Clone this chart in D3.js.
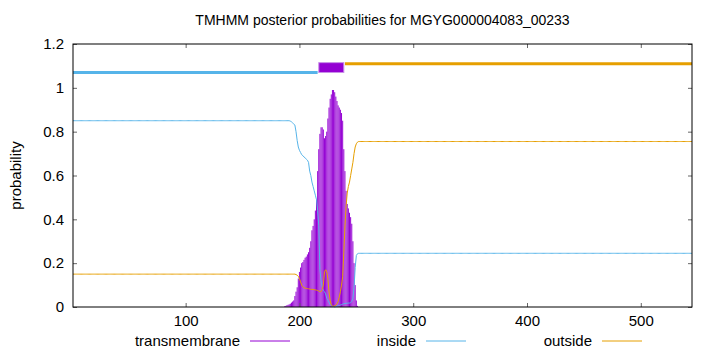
<!DOCTYPE html>
<html>
<head>
<meta charset="utf-8">
<script src="https://cdn.jsdelivr.net/npm/d3@7"></script>
<style>
  body { margin: 0; background: #fff; }
  #chart { width: 720px; height: 352px; }
  text { font-family: "Liberation Sans", Arial, sans-serif; }
</style>
</head>
<body>
<div id="chart"></div>
<script>
// protein length and the residue where the per-residue readings start
const seqLength = 545;
const detailStart = 186;

// posterior probabilities for residues 186..252 (flat before/after)
const tmProb = [0, 0.003, 0.005, 0.008, 0.01, 0.012, 0.015, 0.02, 0.025, 0.03,
  0.05, 0.07, 0.09, 0.13, 0.16, 0.18, 0.2, 0.205, 0.215, 0.225,
  0.23, 0.24, 0.25, 0.27, 0.3, 0.35, 0.37, 0.4, 0.44, 0.49,
  0.62, 0.72, 0.79, 0.82, 0.82, 0.81, 0.77, 0.78, 0.8, 0.86,
  0.91, 0.95, 0.97, 0.99, 0.99, 0.98, 0.96, 0.94, 0.92, 0.91,
  0.9, 0.885, 0.85, 0.72, 0.62, 0.53, 0.47, 0.45, 0.43, 0.41,
  0.38, 0.3, 0.2, 0.1, 0.03, 0.005, 0];
const insideProb = [0.85, 0.85, 0.85, 0.85, 0.85, 0.85, 0.848, 0.845, 0.84, 0.835,
  0.83, 0.8, 0.76, 0.73, 0.715, 0.705, 0.695, 0.69, 0.685, 0.68,
  0.675, 0.67, 0.66, 0.62, 0.6, 0.57, 0.55, 0.53, 0.51, 0.49,
  0.44, 0.37, 0.17, 0.12, 0.09, 0.075, 0.07, 0.06, 0.04, 0.03,
  0.02, 0.01, 0.005, 0.003, 0.002, 0.001, 0.002, 0.003, 0.005, 0.007,
  0.009, 0.011, 0.013, 0.015, 0.016, 0.017, 0.017, 0.018, 0.018, 0.02,
  0.025, 0.04, 0.09, 0.18, 0.235, 0.243, 0.245];
const outsideProb = [0.15, 0.15, 0.15, 0.15, 0.15, 0.15, 0.15, 0.15, 0.15, 0.15,
  0.15, 0.148, 0.145, 0.14, 0.13, 0.115, 0.1, 0.092, 0.088, 0.086,
  0.085, 0.084, 0.083, 0.082, 0.081, 0.08, 0.08, 0.079, 0.078, 0.077,
  0.075, 0.073, 0.07, 0.07, 0.08, 0.1, 0.16, 0.17, 0.16, 0.13,
  0.07, 0.03, 0.01, 0.005, 0.004, 0.005, 0.008, 0.015, 0.025, 0.045,
  0.07, 0.1, 0.14, 0.25, 0.37, 0.46, 0.52, 0.55, 0.57, 0.6,
  0.63, 0.66, 0.7, 0.73, 0.745, 0.752, 0.755];
// plateau values [before detailStart, after the readings]
const tmFlank = [0, 0];
const insideFlank = [0.85, 0.245];
const outsideFlank = [0.15, 0.755];

// predicted topology: [type, first residue, last residue]
const topology = [["inside", 1, 216], ["transmembrane", 217, 239], ["outside", 240, 545]];
const topoLevel = {inside: 1.07, outside: 1.11};
const tmBox = [1.07, 1.115];

const xTicks = [100, 200, 300, 400, 500];
const yTicks = [0, 0.2, 0.4, 0.6, 0.8, 1, 1.2];
const seriesNames = ["transmembrane", "inside", "outside"];
const colors = {transmembrane: "#9400d3", inside: "#56b4e9", outside: "#e69f00"};

class TmhmmPlot {
  constructor(id) {
    this.margin = {top: 44, right: 28, bottom: 45, left: 73};
    this.width = 720 - this.margin.left - this.margin.right;
    this.height = 352 - this.margin.top - this.margin.bottom;
    this.id = id;
    this.draw();
  }

  series(values, flank) {
    let out = [];
    for (let r = 1; r <= seqLength; r++) {
      let i = r - detailStart;
      let v = i < 0 ? flank[0] : (i >= values.length ? flank[1] : values[i]);
      out.push({r: r, v: v});
    }
    return out;
  }

  draw() {
    const svg = d3.select("#" + this.id).append("svg")
      .attr("width", 720).attr("height", 352);
    const g = svg.append("g")
      .attr("transform", `translate(${this.margin.left},${this.margin.top})`);

    const x = d3.scaleLinear().domain([1, seqLength]).range([0, this.width]);
    const y = d3.scaleLinear().domain([0, 1.2]).range([this.height, 0]);

    // transmembrane as impulses
    const tm = this.series(tmProb, tmFlank).filter(d => d.v > 0);
    g.selectAll(".imp").data(tm).enter().append("line")
      .attr("x1", d => x(d.r)).attr("x2", d => x(d.r))
      .attr("y1", y(0)).attr("y2", d => y(d.v))
      .attr("stroke", colors.transmembrane).attr("stroke-width", 1);

    const line = d3.line().x(d => x(d.r)).y(d => y(d.v));
    g.append("path").datum(this.series(insideProb, insideFlank))
      .attr("d", line).attr("fill", "none")
      .attr("stroke", colors.inside).attr("stroke-width", 1);
    g.append("path").datum(this.series(outsideProb, outsideFlank))
      .attr("d", line).attr("fill", "none")
      .attr("stroke", colors.outside).attr("stroke-width", 1);

    // topology bar on top
    topology.forEach(t => {
      if (t[0] == "transmembrane") {
        g.append("rect")
          .attr("x", x(t[1])).attr("y", y(tmBox[1]))
          .attr("width", x(t[2]) - x(t[1])).attr("height", y(tmBox[0]) - y(tmBox[1]))
          .attr("fill", colors.transmembrane).attr("stroke", "#c890e8").attr("stroke-width", 1);
      } else {
        g.append("line")
          .attr("x1", x(t[1])).attr("x2", x(t[2]))
          .attr("y1", y(topoLevel[t[0]])).attr("y2", y(topoLevel[t[0]]))
          .attr("stroke", colors[t[0]]).attr("stroke-width", 3);
      }
    });

    // axes, ticks pointing inward
    const fmt = d => String(+d.toFixed(1));
    const styleAxis = sel => {
      sel.select(".domain").remove();
      sel.selectAll(".tick line").attr("stroke", "#666");
      sel.selectAll("text").attr("font-size", 15).attr("fill", "#000")
        .attr("font-family", "Liberation Sans, Arial, sans-serif");
    };
    g.append("g").attr("transform", `translate(0,${this.height})`)
      .call(d3.axisBottom(x).tickValues(xTicks).tickSize(-4).tickPadding(8))
      .call(styleAxis);
    g.append("g")
      .call(d3.axisTop(x).tickValues(xTicks).tickSize(-4).tickFormat(""))
      .call(styleAxis);
    g.append("g")
      .call(d3.axisLeft(y).tickValues(yTicks).tickSize(-4).tickPadding(9).tickFormat(fmt))
      .call(styleAxis);
    g.append("g").attr("transform", `translate(${this.width},0)`)
      .call(d3.axisRight(y).tickValues(yTicks).tickSize(-4).tickFormat(""))
      .call(styleAxis);

    g.append("rect").attr("x", 0).attr("y", 0)
      .attr("width", this.width).attr("height", this.height)
      .attr("fill", "none").attr("stroke", "#000").attr("stroke-width", 1);

    // title and y label
    svg.append("text").attr("x", this.margin.left + this.width / 2).attr("y", 25)
      .attr("text-anchor", "middle").attr("font-size", 14)
      .text("TMHMM posterior probabilities for MGYG000004083_00233");
    svg.append("text")
      .attr("transform", `translate(21,${this.margin.top + this.height / 2}) rotate(-90)`)
      .attr("text-anchor", "middle").attr("font-size", 15)
      .text("probability");

    // legend
    const legendX = [240, 416, 592];
    const legend = svg.append("g").attr("transform", "translate(0,341)");
    seriesNames.forEach((name, i) => {
      legend.append("text").attr("x", legendX[i]).attr("y", 5)
        .attr("text-anchor", "end").attr("font-size", 15).text(name);
      legend.append("line")
        .attr("x1", legendX[i] + 10).attr("x2", legendX[i] + 50)
        .attr("y1", 0).attr("y2", 0)
        .attr("stroke", colors[name]).attr("stroke-width", 1);
    });
  }
}

new TmhmmPlot("chart");
</script>
</body>
</html>
